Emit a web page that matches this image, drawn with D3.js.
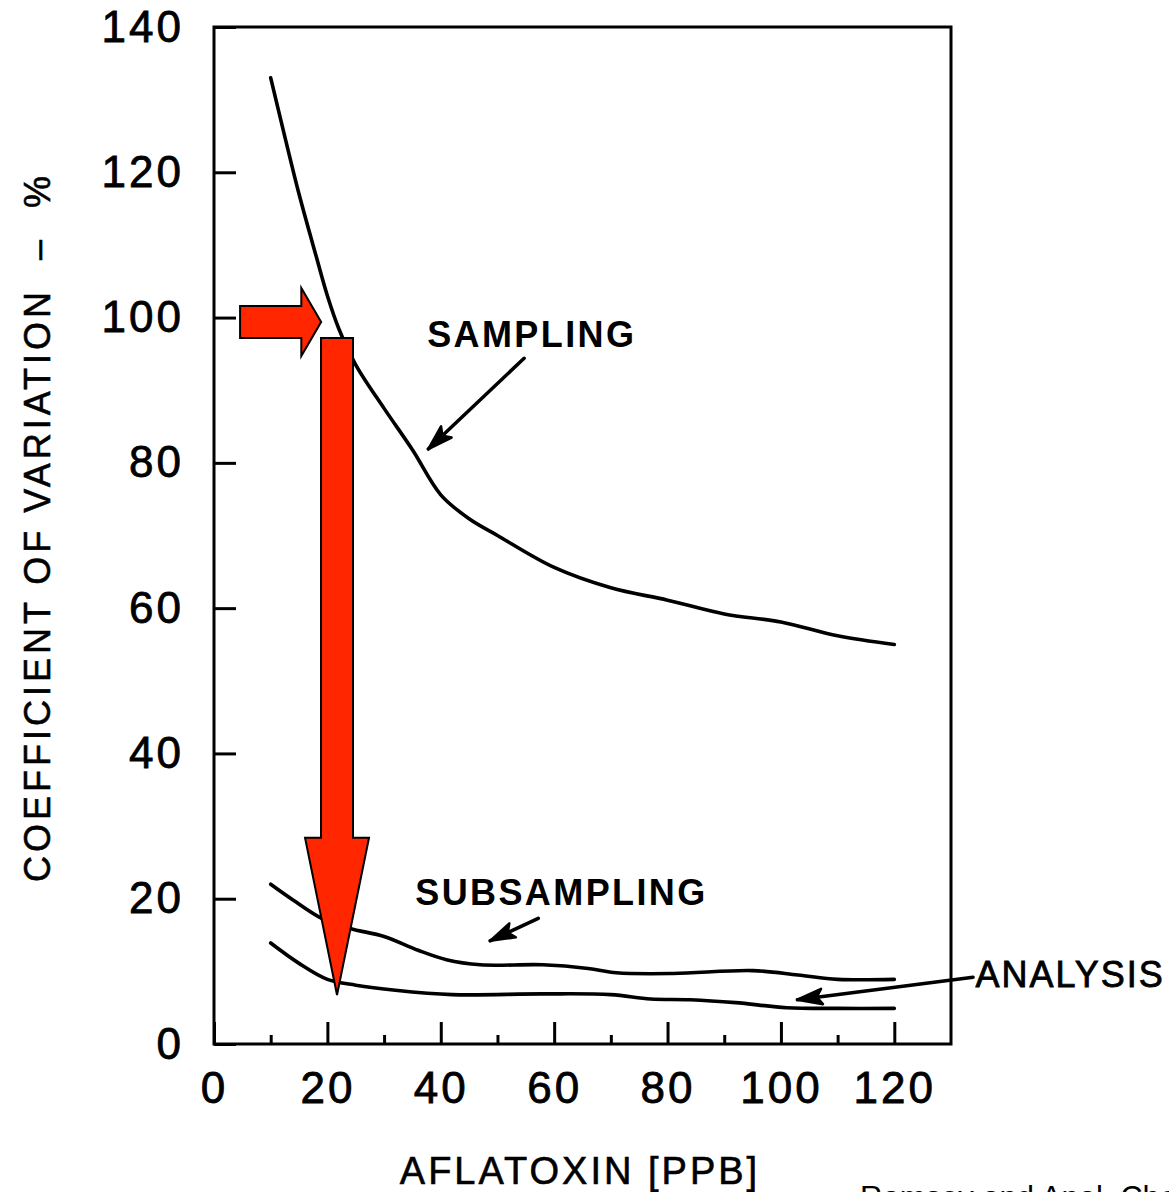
<!DOCTYPE html>
<html>
<head>
<meta charset="utf-8">
<script src="https://cdn.jsdelivr.net/npm/d3@7"></script>
<style>
  body { margin: 0; background: #fff; }
  text { font-family: "Liberation Sans", Arial, sans-serif; fill: #000; }
</style>
</head>
<body>
<svg id="chart" width="1169" height="1192"></svg>
<script>
// data (x = aflatoxin ppb, y = CV %)
var samplingX = [10, 12, 15, 18, 20, 22, 25, 30, 35, 40, 45, 50, 60, 70, 80, 90, 100, 110, 120];
var samplingY = [133, 126.5, 117, 108.5, 103, 98.5, 93.5, 87.5, 81.8, 75.6, 72.3, 70, 65.6, 62.8, 61.1, 59.2, 58.1, 56.2, 55];

var subsamplingX = [10, 14, 19, 24, 30, 36, 41, 47, 58, 66, 71, 81, 95, 103, 110, 120];
var subsamplingY = [22, 19.8, 17.3, 15.9, 14.8, 12.9, 11.6, 10.9, 10.9, 10.4, 9.8, 9.7, 10.1, 9.5, 8.9, 8.9];

var analysisX = [10, 15, 20, 25, 32, 42, 58, 70, 77, 84, 92, 101, 110, 120];
var analysisY = [13.9, 11.1, 8.9, 8.1, 7.4, 6.8, 6.9, 6.8, 6.2, 6.1, 5.7, 5.0, 4.9, 4.9];

var xTicks = [0, 20, 40, 60, 80, 100, 120];
var xMinorTicks = [10, 30, 50, 70, 90, 110];
var yTicks = [0, 20, 40, 60, 80, 100, 120, 140];

// annotations, anchored in data units
var labels = [
  { text: "SAMPLING", x: 37.6, y: 96, bold: true },
  { text: "SUBSAMPLING", x: 35.5, y: 19.1, bold: true },
  { text: "ANALYSIS", x: 134.3, y: 7.85, bold: false }
];
var pointers = [
  { x0: 54.7, y0: 94.4, x1: 37.8, y1: 81.9 },
  { x0: 57.2, y0: 17.3, x1: 48.7, y1: 14.2 },
  { x0: 133.9, y0: 9.2, x1: 102.9, y1: 6.1 }
];
var redRight = { x0: 4.6, x1: 18.9, y: 99.4, headX: 15.4 };
var redDown = { x: 21.7, y0: 97.2, y1: 6.75, headY: 28.4 };

var svg = d3.select("#chart");

var x = d3.scaleLinear().domain([0, 130]).range([214, 951]);
var y = d3.scaleLinear().domain([0, 140]).range([1044, 27]);

// frame
svg.append("rect")
  .attr("x", x(0)).attr("y", y(140))
  .attr("width", x(130) - x(0)).attr("height", y(0) - y(140))
  .attr("fill", "none").attr("stroke", "#000").attr("stroke-width", 3);

// y axis
var yAxis = svg.append("g")
  .attr("transform", "translate(" + x(0) + ",0)")
  .call(d3.axisLeft(y).tickValues(yTicks).tickSize(-22).tickPadding(30));
yAxis.select(".domain").remove();
yAxis.selectAll("line").attr("stroke-width", 3);
yAxis.selectAll("text")
  .attr("font-size", 44).attr("letter-spacing", 3)
  .attr("stroke", "#000").attr("stroke-width", 0.8)
  .attr("font-family", "Liberation Sans, Arial, sans-serif");

// x axis, minor then major
var xMinor = svg.append("g")
  .attr("transform", "translate(0," + y(0) + ")")
  .call(d3.axisBottom(x).tickValues(xMinorTicks).tickSize(-9).tickFormat(""));
xMinor.select(".domain").remove();
xMinor.selectAll("line").attr("stroke-width", 3);

var xAxis = svg.append("g")
  .attr("transform", "translate(0," + y(0) + ")")
  .call(d3.axisBottom(x).tickValues(xTicks).tickSize(-22).tickPadding(28));
xAxis.select(".domain").remove();
xAxis.selectAll("line").attr("stroke-width", 3);
xAxis.selectAll("text")
  .attr("font-size", 44).attr("letter-spacing", 3)
  .attr("stroke", "#000").attr("stroke-width", 0.8)
  .attr("font-family", "Liberation Sans, Arial, sans-serif");

// axis titles
svg.append("text")
  .attr("x", 580).attr("y", 1184)
  .attr("text-anchor", "middle")
  .attr("font-size", 38).attr("letter-spacing", 3)
  .attr("stroke", "#000").attr("stroke-width", 0.6)
  .text("AFLATOXIN [PPB]");

svg.append("text")
  .attr("transform", "translate(50,527) rotate(-90)")
  .attr("text-anchor", "middle")
  .attr("font-size", 36).attr("letter-spacing", 4)
  .attr("stroke", "#000").attr("stroke-width", 0.6)
  .style("white-space", "pre")
  .text("COEFFICIENT OF VARIATION  –  %");

// curves
var line = d3.line()
  .x(function(d) { return x(d[0]); })
  .y(function(d) { return y(d[1]); })
  .curve(d3.curveCatmullRom.alpha(0.5));

[[samplingX, samplingY], [subsamplingX, subsamplingY], [analysisX, analysisY]].forEach(function(s) {
  svg.append("path")
    .datum(d3.zip(s[0], s[1]))
    .attr("d", line)
    .attr("fill", "none")
    .attr("stroke", "#000")
    .attr("stroke-width", 3.6)
    .attr("stroke-linejoin", "round")
    .attr("stroke-linecap", "round");
});

// curve labels
labels.forEach(function(l) {
  svg.append("text")
    .attr("x", x(l.x)).attr("y", y(l.y))
    .attr("font-size", 36)
    .attr("font-weight", l.bold ? "bold" : "normal")
    .attr("letter-spacing", l.bold ? 2.4 : 2)
    .attr("stroke", l.bold ? "none" : "#000").attr("stroke-width", 0.8)
    .text(l.text);
});

// pointer arrows
pointers.forEach(function(p) {
  var x0 = x(p.x0), y0 = y(p.y0), x1 = x(p.x1), y1 = y(p.y1);
  svg.append("line")
    .attr("x1", x0).attr("y1", y0).attr("x2", x1).attr("y2", y1)
    .attr("stroke", "#000").attr("stroke-width", 3.5).attr("stroke-linecap", "round");
  var a = Math.atan2(y0 - y1, x0 - x1), len = 26, spread = 0.3;
  var pts = [
    [x1, y1],
    [x1 + len * Math.cos(a - spread), y1 + len * Math.sin(a - spread)],
    [x1 + len * 0.75 * Math.cos(a), y1 + len * 0.75 * Math.sin(a)],
    [x1 + len * Math.cos(a + spread), y1 + len * Math.sin(a + spread)]
  ];
  svg.append("path")
    .attr("d", "M" + pts.join("L") + "Z")
    .attr("fill", "#000").attr("stroke", "#000")
    .attr("stroke-width", 2.5).attr("stroke-linejoin", "round");
});

// red arrows
var red = "#ff2600";
var hx0 = x(redRight.x0), hx1 = x(redRight.x1), hxh = x(redRight.headX), hy = y(redRight.y);
svg.append("path")
  .attr("d", "M" + [
    [hx0, hy - 16], [hxh, hy - 16], [hxh, hy - 34], [hx1, hy],
    [hxh, hy + 34], [hxh, hy + 16], [hx0, hy + 16]
  ].join("L") + "Z")
  .attr("fill", red).attr("stroke", "#000").attr("stroke-width", 2);

var vx = x(redDown.x), vy0 = y(redDown.y0), vy1 = y(redDown.y1), vyh = y(redDown.headY);
svg.append("path")
  .attr("d", "M" + [
    [vx - 16, vy0], [vx + 16, vy0], [vx + 16, vyh], [vx + 32, vyh], [vx, vy1],
    [vx - 32, vyh], [vx - 16, vyh]
  ].join("L") + "Z")
  .attr("fill", red).attr("stroke", "#000").attr("stroke-width", 2);

// source credit, cut by the page edge as in the original
svg.append("text")
  .attr("x", 860).attr("y", 1208)
  .attr("font-size", 31)
  .attr("font-family", "Liberation Sans, Arial, sans-serif")
  .text("Ramsey and Anal. Chem.");
</script>
</body>
</html>
